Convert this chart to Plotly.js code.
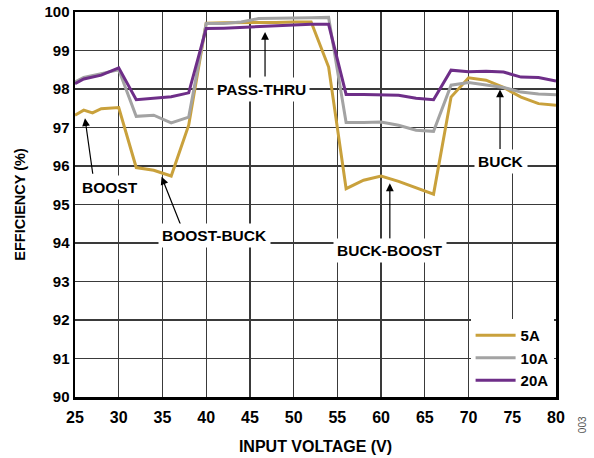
<!DOCTYPE html>
<html><head><meta charset="utf-8">
<script src="https://cdn.plot.ly/plotly-3.0.1.min.js"></script>
<style>html,body{margin:0;padding:0;background:#fff}#c{width:594px;height:458px}</style>
</head><body><div id="c"></div>
<script>
const names = ["5A", "10A", "20A"];
const colors = ["#C9A13C", "#A3A3A3", "#6E2E88"];

const x5 = [25,26,27,28,30,32,34,36,38,40,42,44,46,48,50,52,54,56,58,60,62,64,66,68,70,72,74,76,78,80];
const y5 = [97.32,97.45,97.38,97.49,97.52,95.96,95.89,95.74,97.06,99.71,99.72,99.72,99.72,99.73,99.74,99.74,98.57,95.41,95.63,95.74,95.6,95.44,95.27,97.79,98.29,98.23,98.04,97.79,97.62,97.58];

const x10 = [25,26,28,30,32,34,36,38,40,42,44,46,48,50,52,54,56,58,60,62,64,66,68,70,72,74,76,78,80];
const y10 = [98.18,98.3,98.4,98.5,97.29,97.32,97.12,97.27,99.7,99.7,99.74,99.83,99.84,99.84,99.85,99.86,97.13,97.13,97.14,97.06,96.93,96.9,98.1,98.17,98.1,98.04,97.92,97.87,97.85];

const x20 = [25,26,28,30,32,34,36,38,40,42,44,46,48,50,52,54,56,58,60,62,64,66,68,70,72,74,76,78,80];
const y20 = [98.14,98.26,98.36,98.55,97.72,97.76,97.8,97.9,99.57,99.58,99.6,99.62,99.65,99.67,99.68,99.68,97.86,97.86,97.85,97.84,97.76,97.72,98.49,98.45,98.46,98.44,98.31,98.3,98.21];

const xTicks = [25,30,35,40,45,50,55,60,65,70,75,80];
const yTicks = [90,91,92,93,94,95,96,97,98,99,100];

const labels = ["PASS-THRU","BOOST","BOOST-BUCK","BUCK-BOOST","BUCK"];
const labelX = [46.35, 29.0, 40.9, 61.0, 73.7];
const labelY = [97.99, 95.43, 94.2, 93.8, 96.11];
const tipX = [46.73, 26.14, 34.9, 61.0, 73.6];
const tipY = [99.48, 97.24, 95.72, 95.55, 97.99];
const tailDx = [0, 8, 21, 0, 0];
const tailDy = [46, 57, 53, 57, 61];

const F = "Liberation Sans, Arial, sans-serif";
const series = [[x5,y5],[x10,y10],[x20,y20]];
const traces = series.map((s,i)=>({
  x: s[0], y: s[1], type: "scatter", mode: "lines", name: names[i],
  line: {color: colors[i], width: 3}
}));

const annotations = [];
labels.forEach((t,i)=>{
  annotations.push({x: tipX[i], y: tipY[i], xref:"x", yref:"y", text:"", showarrow:true,
    ax: tailDx[i], ay: tailDy[i], axref:"pixel", ayref:"pixel",
    arrowhead:2, arrowsize:1.3, arrowwidth:1.2, arrowcolor:"#000"});
  annotations.push({x: labelX[i], y: labelY[i], xref:"x", yref:"y", text: t, showarrow:false,
    bgcolor:"#fff", borderpad:3, font:{family:F, size:15.5, color:"#000", weight:"bold"}});
});
annotations.push({x:1.07, y:-0.1, xref:"paper", yref:"paper", text:"003", showarrow:false,
  textangle:-90, font:{family:F, size:10, color:"#555"}});

const layout = {
  width:594, height:458,
  margin:{l:75, r:38, t:12, b:61},
  paper_bgcolor:"#fff", plot_bgcolor:"#fff",
  showlegend:true,
  legend:{x:0.995, y:0.0, xanchor:"right", yanchor:"bottom", bgcolor:"#fff",
    font:{family:F, size:15, color:"#000", weight:"bold"}, tracegroupgap:0, itemwidth:40},
  xaxis:{range:[25,80], tickvals:xTicks, ticktext:xTicks.map(String), showgrid:true,
    gridcolor:"#3a3a3a", gridwidth:1.3, zeroline:false, showline:true, linecolor:"#000",
    linewidth:2.5, mirror:true, ticks:"", ticklen:0, ticklabelstandoff:4,
    tickfont:{family:F, size:16, color:"#000", weight:"bold"},
    title:{text:"INPUT VOLTAGE (V)", font:{family:F, size:16, color:"#000", weight:"bold"}, standoff:16}},
  yaxis:{range:[90,100], tickvals:yTicks, ticktext:yTicks.map(String), showgrid:true,
    gridcolor:"#3a3a3a", gridwidth:1.3, zeroline:false, showline:true, linecolor:"#000",
    linewidth:2.5, mirror:true, ticks:"", ticklen:0,
    tickfont:{family:F, size:15, color:"#000", weight:"bold"},
    title:{text:"EFFICIENCY (%)", font:{family:F, size:14.5, color:"#000", weight:"bold"}, standoff:16}},
  annotations: annotations
};
Plotly.newPlot("c", traces, layout, {staticPlot:true, displayModeBar:false});
</script></body></html>
